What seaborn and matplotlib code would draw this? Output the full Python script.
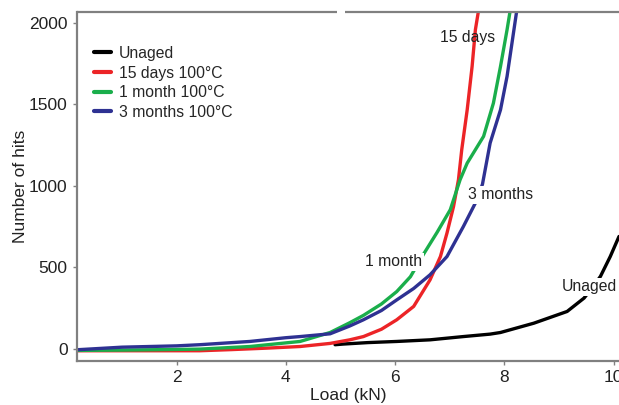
import matplotlib
matplotlib.use("Agg")
import matplotlib.pyplot as plt
import seaborn as sns
import pandas as pd

# ---- data ----
unaged_x = [4.9, 5.05, 5.5, 6.03, 6.64, 7.25, 7.74, 7.93, 8.54, 9.15, 9.46, 9.6, 9.76, 9.94, 10.1]
unaged_y = [25, 29, 38, 45, 55, 75, 90, 100, 157, 229, 311, 370, 444, 566, 689]

days15_x = [0.17, 1.0, 2.0, 2.42, 3.0, 3.65, 4.26, 4.81, 5.17, 5.42, 5.75, 6.03, 6.34, 6.64, 6.83, 6.95, 7.07, 7.16, 7.22, 7.32, 7.41, 7.47, 7.53]
days15_y = [-12, -12, -12, -12, -5, 4, 14, 33, 55, 75, 120, 178, 260, 423, 566, 710, 873, 1037, 1221, 1466, 1732, 1957, 2080]

month1_x = [0.17, 1.0, 2.0, 2.42, 3.34, 4.26, 4.81, 5.17, 5.42, 5.75, 6.03, 6.28, 6.52, 6.77, 7.01, 7.10, 7.19, 7.32, 7.62, 7.80, 7.93, 8.05, 8.11]
month1_y = [-10, -8, -4, -2, 14, 45, 100, 160, 205, 275, 351, 442, 580, 715, 853, 945, 1037, 1139, 1303, 1507, 1732, 1957, 2080]

month3_x = [0.17, 1.0, 2.0, 2.42, 3.34, 4.0, 4.26, 4.81, 5.17, 5.42, 5.75, 6.03, 6.34, 6.64, 6.95, 7.25, 7.50, 7.60, 7.74, 7.93, 8.05, 8.14, 8.23]
month3_y = [-6, 10, 18, 25, 45, 68, 75, 92, 140, 178, 235, 300, 370, 454, 566, 750, 914, 1010, 1262, 1466, 1671, 1875, 2080]

labels = ["Unaged", "15 days 100°C", "1 month 100°C", "3 months 100°C"]
colors = ["#000000", "#ec2427", "#1aae4b", "#2e3192"]

xticks = [2, 4, 6, 8, 10]
yticks = [0, 500, 1000, 1500, 2000]

frames = []
for lab, xs, ys in zip(labels, [unaged_x, days15_x, month1_x, month3_x],
                       [unaged_y, days15_y, month1_y, month3_y]):
    frames.append(pd.DataFrame({"Load": xs, "Hits": ys, "Series": lab}))
df = pd.concat(frames, ignore_index=True)

sns.set_style("white")
plt.rcParams["font.family"] = ["Liberation Sans", "DejaVu Sans"]

fig = plt.figure(figsize=(6.19, 4.05), dpi=100)
ax = fig.add_axes([0.124, 0.109, 0.876, 0.861])

sns.lineplot(data=df, x="Load", y="Hits", hue="Series", hue_order=labels,
             palette=dict(zip(labels, colors)), sort=False, estimator=None,
             linewidth=2.4, ax=ax, solid_joinstyle="round", solid_capstyle="round")

ax.set_xlim(0.17, 10.1)
ax.set_ylim(-74, 2065)
ax.set_xticks(xticks)
ax.set_yticks(yticks)
ax.set_xticklabels([str(t) for t in xticks])
ax.set_yticklabels([str(t) for t in yticks])
ax.tick_params(axis="both", labelsize=12.5, colors="#808080", labelcolor="#222222",
               length=3, width=1, direction="out", left=True, bottom=True)
ax.set_xlabel("Load (kN)", fontsize=12.5, color="#222222", labelpad=2)
ax.set_ylabel("Number of hits", fontsize=12.5, color="#222222", labelpad=0.5)

for side in ["left", "bottom", "top"]:
    ax.spines[side].set_color("#808080")
    ax.spines[side].set_linewidth(1.6)
ax.spines["right"].set_visible(False)
# small gap in the top frame line, as in the reference
ax.spines["top"].set_visible(False)
ax.plot([0, 0.48], [1, 1], transform=ax.transAxes, color="#808080", lw=1.6,
        clip_on=False, solid_capstyle="butt")
ax.plot([0.494, 1], [1, 1], transform=ax.transAxes, color="#808080", lw=1.6,
        clip_on=False, solid_capstyle="butt")

leg = ax.legend(loc="upper left", bbox_to_anchor=(0.011, 0.935), frameon=False,
                fontsize=11.3, handlelength=1.1, handletextpad=0.5,
                labelspacing=0.3, borderaxespad=0.3)
for h in leg.get_lines():
    h.set_linewidth(3)

ann = dict(fontsize=11.3, color="#222222", ha="center", va="center")
box = dict(facecolor="white", edgecolor="none", pad=1.0)
ax.text(7.32, 1908, "15 days", **ann)
ax.text(7.93, 945, "3 months", bbox=box, **ann)
ax.text(5.98, 534, "1 month", bbox=box, **ann)
ax.text(9.55, 380, "Unaged", bbox=box, **ann)

fig.savefig("out.png", dpi=100)
